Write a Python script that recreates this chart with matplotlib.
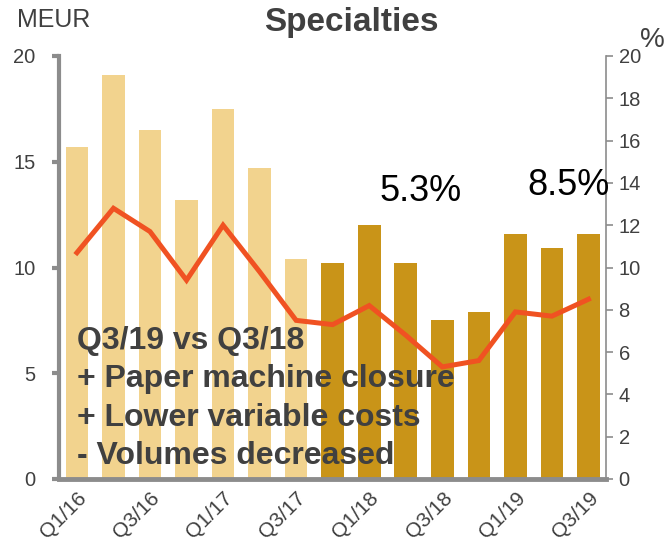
import numpy as np
import matplotlib
matplotlib.use("Agg")
import matplotlib.pyplot as plt

plt.rcParams['font.family'] = ['Liberation Sans', 'DejaVu Sans']

quarters = ["Q1/16", "Q2/16", "Q3/16", "Q4/16", "Q1/17", "Q2/17", "Q3/17", "Q4/17",
            "Q1/18", "Q2/18", "Q3/18", "Q4/18", "Q1/19", "Q2/19", "Q3/19"]
ebitda = [15.7, 19.1, 16.5, 13.2, 17.5, 14.7, 10.4, 10.2, 12.0, 10.2, 7.5, 7.9, 11.6, 10.9, 11.6]
margin = [10.7, 12.8, 11.7, 9.4, 12.0, 9.8, 7.5, 7.3, 8.2, 6.8, 5.3, 5.6, 7.9, 7.7, 8.5]
n_light = 7

light = "#f2d38e"
dark = "#c99418"
line_col = "#f05222"
grey = "#8c8c8c"
txt = "#404040"

fig = plt.figure(figsize=(6.67, 5.43), dpi=100)
ax = fig.add_axes([59 / 667, 64 / 543, 547 / 667, 423 / 543])

x = np.arange(len(quarters))
colors = [light if i < n_light else dark for i in range(len(quarters))]
ax.bar(x, ebitda, width=0.62, color=colors, zorder=2)
ax.set_xlim(-0.49, 14.48)
ax.set_ylim(0, 20)
ax.set_yticks([0, 5, 10, 15, 20])
ax.set_xticks(x[::2])
ax.set_xticklabels(quarters[::2], rotation=45, ha="right", rotation_mode="anchor",
                   fontsize=15, color=txt)
ax.tick_params(axis="x", length=0, pad=7)
ax.tick_params(axis="y", length=5, width=3, color=grey, labelsize=14.5, labelcolor=txt, pad=12)
for s in ["top", "right"]:
    ax.spines[s].set_visible(False)
ax.spines["left"].set_color(grey)
ax.spines["left"].set_linewidth(3)
ax.spines["bottom"].set_color(grey)
ax.spines["bottom"].set_linewidth(3.5)

ax2 = ax.twinx()
ax2.plot(x, margin, color=line_col, lw=3.6, zorder=3, solid_joinstyle="miter")
ax2.set_ylim(0, 20)
ax2.set_yticks(np.arange(0, 21, 2))
ax2.tick_params(axis="y", length=5, width=1.2, color=grey, labelsize=14.5, labelcolor=txt, pad=4)
for s in ["top", "left", "bottom"]:
    ax2.spines[s].set_visible(False)
ax2.spines["right"].set_color(grey)
ax2.spines["right"].set_linewidth(1.2)

ax2.text(9.4, 13.6, "5.3%", fontsize=26, ha="center", va="center", color="black")
ax2.text(13.45, 13.9, "8.5%", fontsize=26, ha="center", va="center", color="black")

ax2.text(0.033, 0.362, "Q3/19 vs Q3/18\n+ Paper machine closure\n+ Lower variable costs\n- Volumes decreased",
         transform=ax.transAxes, fontsize=23, fontweight="bold", color=txt,
         ha="left", va="top", linespacing=1.37, zorder=5)

fig.text(351 / 667, 1 - 23 / 543, "Specialties", fontsize=24, fontweight="bold",
         color=txt, ha="center", va="center")
fig.text(17 / 667, 1 - 20 / 543, "MEUR", fontsize=18, color=txt, ha="left", va="center")
fig.text(652 / 667, 1 - 40 / 543, "%", fontsize=20, color=txt, ha="center", va="center")

fig.savefig("out.png", dpi=100)
